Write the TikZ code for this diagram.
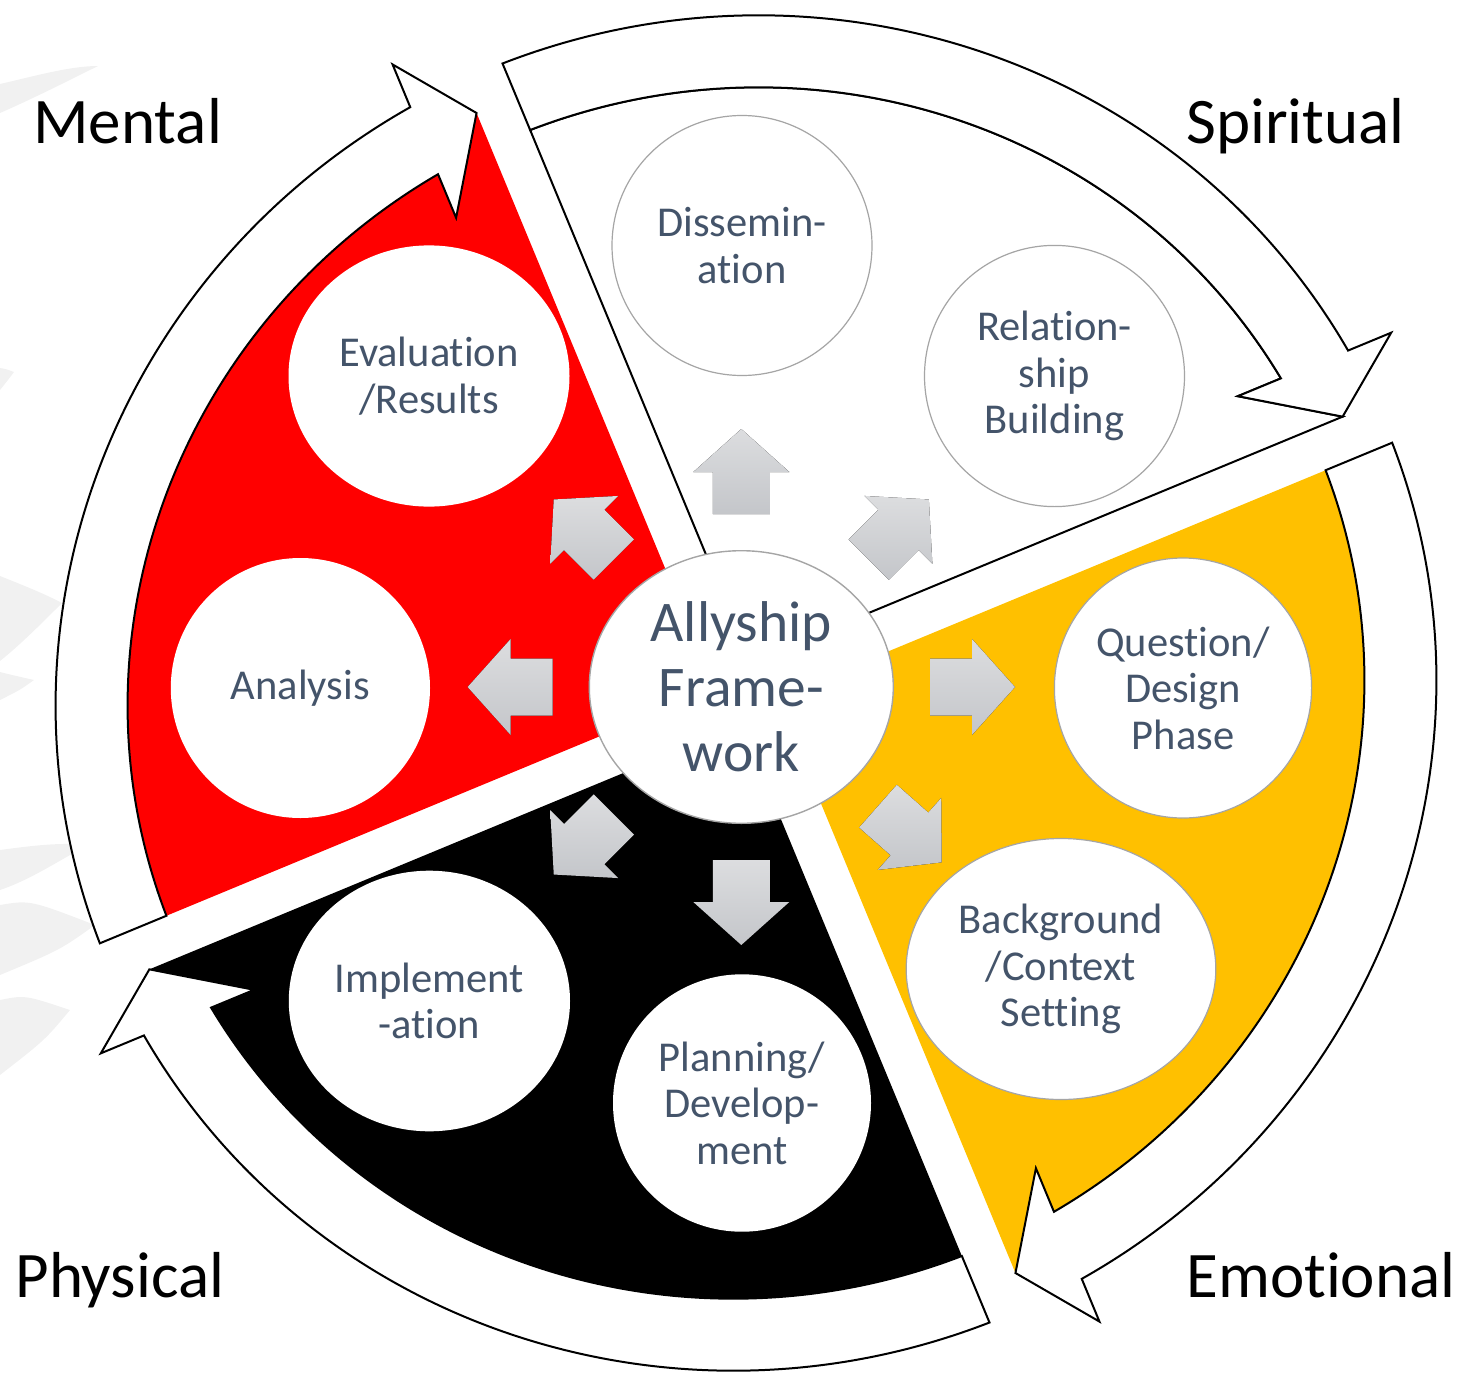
\documentclass[tikz,border=0pt]{standalone}
\usepackage{fontspec}
\setmainfont{Carlito}[RawFeature={-liga;-clig;-calt;-dlig}]
\usetikzlibrary{shapes.geometric}
\definecolor{txt}{HTML}{44546A}
\definecolor{mred}{HTML}{FF0000}
\definecolor{egold}{HTML}{FFC000}
\definecolor{arrlight}{HTML}{DCDDDF}
\definecolor{arrdark}{HTML}{C4C6CA}
\definecolor{wisp}{HTML}{F1F1F1}
\definecolor{rimgray}{HTML}{A5A5A5}
\newcommand\garrow[1]{%
  \fill[blockarrow,shift={(hub.#1)},rotate=#1]
    (36,-28.5) -- (78,-28.5) -- (78,-48) -- (121,0) -- (78,48) -- (78,28.5) -- (36,28.5) -- cycle;}
\begin{document}
\begin{tikzpicture}[x=0.5pt,y=0.5pt,
  band/.style={fill=white,draw=black,line width=1pt,line join=miter,miter limit=20},
  bubble/.style={ellipse,inner sep=0pt,fill=white,text=txt,align=center,
     font=\fontsize{21.25}{23.3}\selectfont},
  rim/.style={draw=rimgray,line width=0.6pt},
  hubstyle/.style={ellipse,inner sep=0pt,fill=white,draw=rimgray,line width=0.7pt,text=txt,align=center,
     font=\fontsize{28.75}{32.5}\selectfont},
  quadlabel/.style={anchor=base west,inner sep=0pt,font=\fontsize{32.5}{39}\selectfont,text=black},
  blockarrow/.style={top color=arrlight,bottom color=arrdark,draw=none}
]
\useasboundingbox (0,0) rectangle (1468,-1376);
% faint background wisps
\fill[wisp] (0,-84) .. controls (35,-76) and (70,-66) .. (98,-66) .. controls (70,-80) and (30,-100) .. (0,-113) -- cycle;
\fill[wisp] (0,-368) .. controls (6,-369) .. (14,-372) .. controls (8,-380) .. (0,-390) -- cycle;
\fill[wisp] (0,-576) .. controls (25,-586) and (45,-594) .. (62,-603) .. controls (40,-625) and (20,-645) .. (0,-661) -- cycle;
\fill[wisp] (0,-672) .. controls (12,-675) .. (34,-680) .. controls (20,-690) .. (0,-700) -- cycle;
\fill[wisp] (0,-850) .. controls (30,-846) and (60,-842) .. (88,-845) .. controls (60,-860) and (30,-880) .. (0,-890) -- cycle;
\fill[wisp] (0,-905) .. controls (30,-900) .. (95,-925) .. controls (60,-950) .. (0,-975) -- cycle;
\fill[wisp] (0,-1000) .. controls (25,-995) .. (70,-1010) .. controls (45,-1040) .. (0,-1075) -- cycle;
% sectors and arrow bands (local frame rotated by 22.5 deg)
\begin{scope}[shift={(746,-693)},rotate=22.5]
  % Spiritual (white) sector
  \filldraw[fill=white,draw=black,line width=1pt,line join=miter]
    (16,27) -- (88.52:621 and 603) arc[start angle=88.52,end angle=8.20,x radius=621,y radius=603]
    -- (568,86) -- (657,27) -- cycle;
  % Mental (red) sector
  \fill[mred] (-27,16) -- (178.48:621 and 603) arc[start angle=178.48,end angle=97.96,x radius=621,y radius=603]
    -- (-86,550) -- (-27,639) -- cycle;
  % Physical (black) sector
  \fill[black] (-16,-27) -- (268.52:621 and 603) arc[start angle=268.52,end angle=188.20,x radius=621,y radius=603]
    -- (-568,-86) -- (-657,-27) -- cycle;
  % Emotional (gold) sector
  \fill[egold] (27,-16) -- (-1.52:621 and 603) arc[start angle=-1.52,end angle=-82.04,x radius=621,y radius=603]
    -- (86,-550) -- (27,-639) -- cycle;
  % arrow bands
  \draw[band] (88.68:693 and 675) arc[start angle=88.68,end angle=7.32,x radius=693,y radius=675]
    -- (734,86) -- (657,27) -- (568,86) -- (8.20:621 and 603)
    arc[start angle=8.20,end angle=88.52,x radius=621,y radius=603] -- cycle;
  \draw[band] (178.64:693 and 675) arc[start angle=178.64,end angle=97.13,x radius=693,y radius=675]
    -- (-86,716) -- (-27,639) -- (-86,550) -- (97.96:621 and 603)
    arc[start angle=97.96,end angle=178.48,x radius=621,y radius=603] -- cycle;
  \draw[band] (268.68:693 and 675) arc[start angle=268.68,end angle=187.32,x radius=693,y radius=675]
    -- (-734,-86) -- (-657,-27) -- (-568,-86) -- (188.20:621 and 603)
    arc[start angle=188.20,end angle=268.52,x radius=621,y radius=603] -- cycle;
  \draw[band] (-1.36:693 and 675) arc[start angle=-1.36,end angle=-82.87,x radius=693,y radius=675]
    -- (86,-716) -- (27,-639) -- (86,-550) -- (-82.04:621 and 603)
    arc[start angle=-82.04,end angle=-1.52,x radius=621,y radius=603] -- cycle;
\end{scope}
% bubbles
\node[bubble,rim,minimum width=130pt,minimum height=130pt] (diss) at (742,-245.5) {Dissemin-\\ation};
\node[bubble,rim,minimum width=130pt,minimum height=130.6pt] (rel) at (1054.5,-376) {Relation-\\ship\\Building};
\node[bubble,minimum width=140.5pt,minimum height=130.6pt] (eval) at (429,-376) {Evaluation\\/Results};
\node[bubble,minimum width=129.6pt,minimum height=130pt] (ana) at (300.4,-688) {Analysis};
\node[bubble,rim,minimum width=128.6pt,minimum height=130pt] (ques) at (1183,-688) {Question/\\Design\\Phase};
\node[bubble,rim,minimum width=154.8pt,minimum height=130.5pt] (bg) at (1061,-969) {Background\\/Context\\Setting};
\node[bubble,minimum width=140.6pt,minimum height=130.3pt] (impl) at (429.4,-1001) {Implement\\-ation};
\node[bubble,minimum width=129pt,minimum height=128.7pt] (plan) at (742,-1103) {Planning/\\Develop-\\ment};
% hub
\node[hubstyle,minimum width=152pt,minimum height=136.3pt] (hub) at (741.3,-687) {Allyship\\Frame-\\work};
% block arrows from hub towards the bubbles
\garrow{90}
\garrow{45}
\garrow{0}
\garrow{-41.4}
\garrow{-90}
\garrow{-135}
\garrow{180}
\garrow{135}
% quadrant labels
\node[quadlabel] (lmental) at (33,-143) {Mental};
\node[quadlabel] (lspirit) at (1186,-143.7) {Spiritual};
\node[quadlabel] (lphys) at (15,-1297) {Physical};
\node[quadlabel] (lemot) at (1186,-1297) {Emotional};
\end{tikzpicture}
\end{document}
